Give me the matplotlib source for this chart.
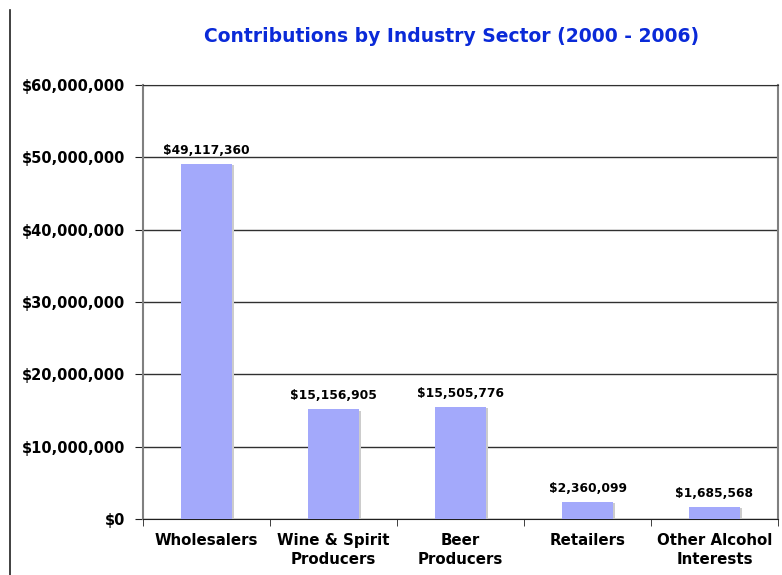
import matplotlib.pyplot as plt
import matplotlib.patheffects as pe
from matplotlib.lines import Line2D
from matplotlib.ticker import FuncFormatter, MultipleLocator

# ─── Data ─────────────────────────────────────────────────────────────────────
sectors = ["Wholesalers", "Wine & Spirit\nProducers", "Beer\nProducers",
           "Retailers", "Other Alcohol\nInterests"]
contributions = [49117360, 15156905, 15505776, 2360099, 1685568]

bar_color = "#a3a9fb"
title_color = "#0a2ad8"

plt.rcParams["font.family"] = "DejaVu Sans"
plt.rcParams["font.weight"] = "bold"

fig = plt.figure(figsize=(7.82, 5.75), dpi=100)
ax = fig.add_axes([143 / 782, 56 / 575, 635 / 782, 434 / 575])

x = range(len(sectors))
bars = ax.bar(x, contributions, width=0.4, color=bar_color, zorder=3)
for b in bars:
    b.set_path_effects([pe.SimplePatchShadow(offset=(1.5, -1), shadow_rgbFace="#cccccc", alpha=1.0),
                        pe.Normal()])

for xi, v in zip(x, contributions):
    ax.annotate(f"${v:,.0f}", (xi, v), xytext=(0, 5), textcoords="offset points",
                ha="center", va="bottom", fontsize=8.8, fontweight="bold")

ax.set_xlim(-0.5, len(sectors) - 0.5)
ax.set_ylim(0, 60000000)
ax.yaxis.set_major_locator(MultipleLocator(10000000))
ax.yaxis.set_major_formatter(FuncFormatter(lambda v, _: f"${v:,.0f}"))
ax.grid(axis="y", color="#303030", lw=1, zorder=0)

# category labels centred, ticks on the boundaries
ax.set_xticks(list(x))
ax.set_xticklabels(sectors, fontsize=10.8, fontweight="bold", linespacing=1.35)
ax.tick_params(axis="x", length=0, pad=10)
ax.set_xticks([i + 0.5 for i in range(-1, len(sectors))], minor=True)
ax.tick_params(axis="x", which="minor", length=5, color="#202020", direction="out")
ax.tick_params(axis="y", length=6, color="#202020", labelsize=10.5, pad=7)
for lbl in ax.get_yticklabels():
    lbl.set_fontweight("bold")

for side in ("left", "right"):
    ax.spines[side].set_color("#808080")
    ax.spines[side].set_linewidth(1.5)
ax.spines["top"].set_color("#303030")
ax.spines["bottom"].set_color("#202020")

fig.text(452 / 782, 1 - 37 / 575, "Contributions by Industry Sector (2000 - 2006)",
         ha="center", va="center", color=title_color, fontsize=13.5, fontweight="bold")

# left border line of the original image
fig.add_artist(Line2D([10 / 782, 10 / 782], [0, 1 - 10 / 575], color="#202020", lw=1.2))

fig.savefig("out.png", dpi=100)
